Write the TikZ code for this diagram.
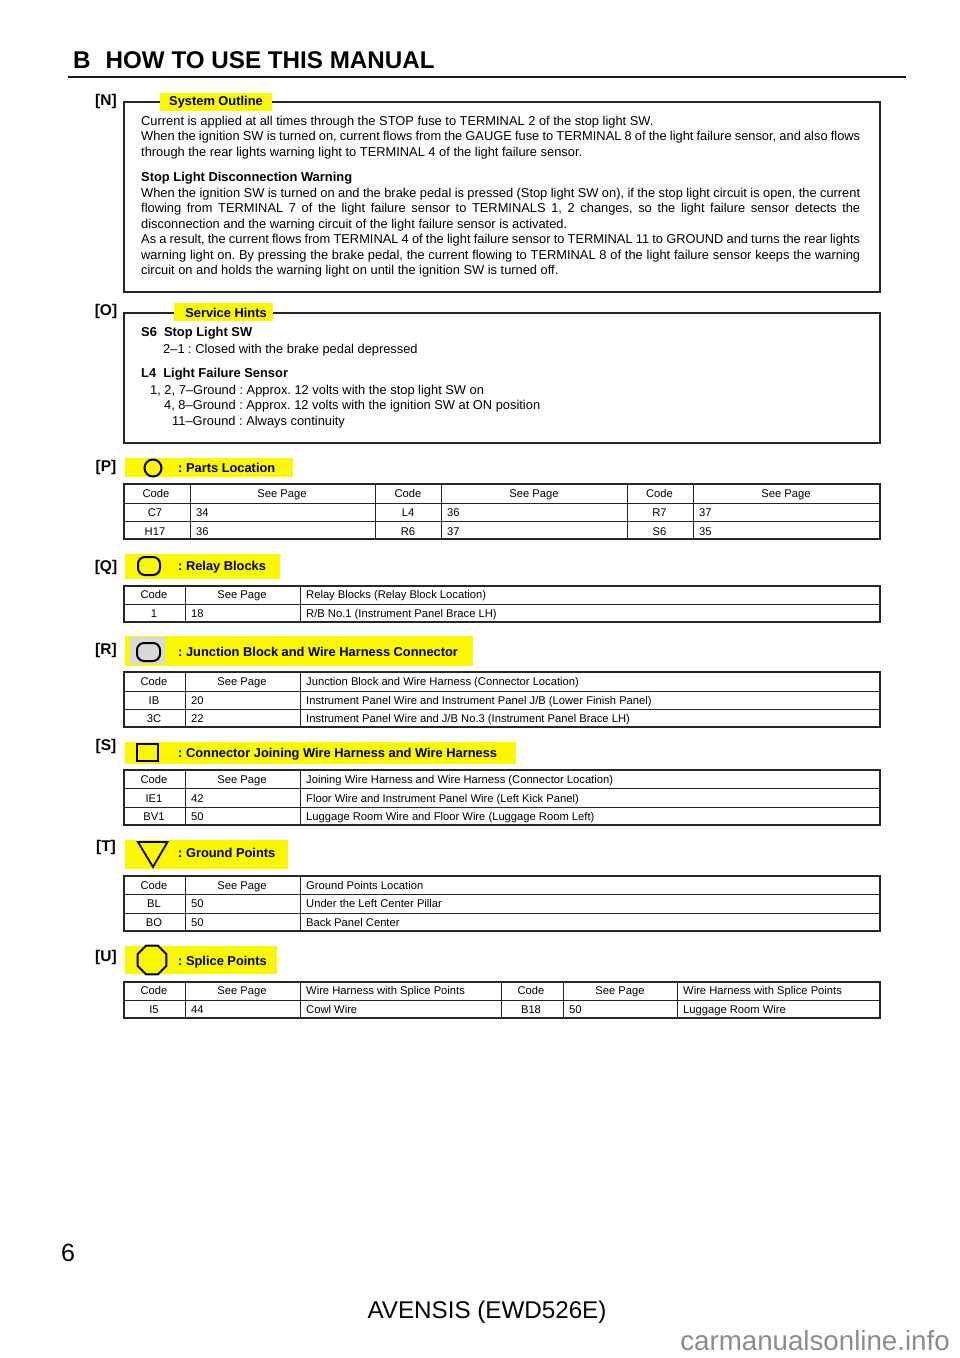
\documentclass[tikz,border=0pt]{standalone}
\usepackage{fontspec}
\setmainfont{Liberation Sans}
\usetikzlibrary{shapes.geometric}
\definecolor{hilite}{RGB}{250,247,0}
\definecolor{relgray}{RGB}{216,216,216}
\newcommand{\fullline}[1]{\hbox to 719pt{#1}}
\tikzset{
  body/.style={anchor=base west,inner sep=0pt,font=\fontsize{12.86}{14}\selectfont},
  bodyb/.style={body,font=\fontsize{12.9}{14}\selectfont\bfseries},
  tag/.style={inner sep=0pt,font=\fontsize{15.5}{18}\selectfont\bfseries},
  head/.style={inner sep=0pt,font=\fontsize{12.85}{15}\selectfont\bfseries},
  headl/.style={head,anchor=base west},
  bar/.style={fill=hilite,draw=none},
  frame/.style={draw=black!85,line width=1.4pt},
  grid/.style={draw=black!85,line width=1.3pt},
  thin grid/.style={draw=black!85,line width=1pt},
  cellc/.style={anchor=base,inner sep=0pt,font=\fontsize{11.2}{13}\selectfont},
  celll/.style={anchor=base west,inner sep=0pt,font=\fontsize{11.2}{13}\selectfont},
  sym/.style={draw=black,line width=2pt}
}
\begin{document}
\frenchspacing
\begin{tikzpicture}[x=1pt,y=-1pt]
\useasboundingbox (0,0) rectangle (960,1358);
\fill[white] (0,0) rectangle (960,1358);

% title
\node[anchor=base west,inner sep=0pt,font=\fontsize{24.2}{30}\selectfont\bfseries] (title) at (73,68) {B\hspace{0.62em}HOW TO USE THIS MANUAL};
\draw[line width=2.6pt,black!90] (68,77) -- (906,77);

% [N]
\draw[frame] (124,102) rectangle (880,292);
\fill[bar] (160,93) rectangle (272,111);
\node[head] (outline) at (216,102) {System Outline};
\node[tag] (tagN) at (106,101) {[N]};
\node[body] (n1) at (141,125) {Current is applied at all times through the STOP fuse to TERMINAL 2 of the stop light SW.};
\node[body] (n2) at (141,140) {\fullline{When the ignition SW is turned on, current flows from the GAUGE fuse to TERMINAL 8 of the light failure sensor, and also flows}};
\node[body] (n3) at (141,156) {through the rear lights warning light to TERMINAL 4 of the light failure sensor.};
\node[bodyb] (n4) at (141,181) {Stop Light Disconnection Warning};
\node[body] (n5) at (141,197) {\fullline{When the ignition SW is turned on and the brake pedal is pressed (Stop light SW on), if the stop light circuit is open, the current}};
\node[body] (n6) at (141,212) {\fullline{flowing from TERMINAL 7 of the light failure sensor to TERMINALS 1, 2 changes, so the light failure sensor detects the}};
\node[body] (n7) at (141,228) {disconnection and the warning circuit of the light failure sensor is activated.};
\node[body] (n8) at (141,243) {\fullline{As a result, the current flows from TERMINAL 4 of the light failure sensor to TERMINAL 11 to GROUND and turns the rear lights}};
\node[body] (n9) at (141,259) {\fullline{warning light on. By pressing the brake pedal, the current flowing to TERMINAL 8 of the light failure sensor keeps the warning}};
\node[body] (n10) at (141,274) {circuit on and holds the warning light on until the ignition SW is turned off.};

% [O]
\draw[frame] (124,313) rectangle (880,443);
\fill[bar] (174,303) rectangle (273,321);
\node[head] (hints) at (226,313) {Service Hints};
\node[tag] (tagO) at (106,311) {[O]};
\node[bodyb] (o1) at (141,336) {S6\hspace{0.55em}Stop Light SW};
\node[body] (o2) at (163,353) {2--1 : Closed with the brake pedal depressed};
\node[bodyb] (o3) at (141,377) {L4\hspace{0.55em}Light Failure Sensor};
\node[body] (o4) at (150,394) {1, 2, 7--Ground : Approx. 12 volts with the stop light SW on};
\node[body] (o5) at (164,409) {4, 8--Ground : Approx. 12 volts with the ignition SW at ON position};
\node[body] (o6) at (172,425) {11--Ground : Always continuity};

% [P]
\fill[bar] (125,458) rectangle (293,477);
\node[tag] (tagP) at (106,467) {[P]};
\node[sym,circle,minimum size=17pt,inner sep=0pt] (symP) at (153,468) {};
\node[headl] (headP) at (178,472.5) {: Parts Location};
\draw[grid] (124,484) rectangle (880,539);
\draw[thin grid] (124,503) -- (880,503) (124,521) -- (880,521);
\foreach \x in {190,375,441,627,693} \draw[thin grid] (\x,484) -- (\x,539);
\foreach \x/\y/\t [count=\i] in {156/497/Code,408/497/Code,659.5/497/Code,282/497/See Page,534/497/See Page,786/497/See Page,155/516/C7,408/516/L4,659.5/516/R7,155/535/H17,408/535/R6,659.5/535/S6}
  \node[cellc] (p\i) at (\x,\y) {\t};
\foreach \x/\y/\t [count=\i] in {196/516/34,447/516/36,699/516/37,196/535/36,447/535/37,699/535/35}
  \node[celll] (pv\i) at (\x,\y) {\t};

% [Q]
\fill[bar] (125,554) rectangle (280,579);
\node[tag] (tagQ) at (106,567) {[Q]};
\draw[sym,rounded corners=7pt] (138,557) rectangle (160,575);
\node[headl] (headQ) at (178,570.5) {: Relay Blocks};
\draw[grid] (124,586) rectangle (880,622);
\draw[thin grid] (124,604) -- (880,604);
\foreach \x in {185,300} \draw[thin grid] (\x,586) -- (\x,622);
\node[cellc] (q1) at (154,598) {Code};
\node[cellc] (q2) at (242,598) {See Page};
\node[celll] (q3) at (306,598) {Relay Blocks (Relay Block Location)};
\node[cellc] (q4) at (154,617) {1};
\node[celll] (q5) at (191,617) {18};
\node[celll] (q6) at (306,617) {R/B No.1 (Instrument Panel Brace LH)};

% [R]
\fill[bar] (125,636) rectangle (473,666);
\fill[relgray] (130,637) rectangle (165,664);
\node[tag] (tagR) at (106,650) {[R]};
\draw[sym,fill=relgray,rounded corners=7pt] (137,643) rectangle (160,661);
\node[headl] (headR) at (178,656.5) {: Junction Block and Wire Harness Connector};
\draw[grid] (124,672) rectangle (880,727);
\draw[thin grid] (124,691) -- (880,691) (124,709) -- (880,709);
\foreach \x in {185,300} \draw[thin grid] (\x,672) -- (\x,727);
\foreach \y/\c/\p/\t [count=\i] in {685/Code/See Page/{Junction Block and Wire Harness (Connector Location)},704/IB/20/{Instrument Panel Wire and Instrument Panel J/B (Lower Finish Panel)},722/3C/22/{Instrument Panel Wire and J/B No.3 (Instrument Panel Brace LH)}}{
  \node[cellc] (rc\i) at (154,\y) {\c};
  \ifnum\i=1 \node[cellc] (rp\i) at (242,\y) {\p}; \else \node[celll] (rp\i) at (191,\y) {\p}; \fi
  \node[celll] (rt\i) at (306,\y) {\t};
}

% [S]
\fill[bar] (125,742) rectangle (516,764);
\node[tag] (tagS) at (106,746) {[S]};
\draw[sym] (137,744) rectangle (158,761);
\node[headl] (headS) at (178,757.5) {: Connector Joining Wire Harness and Wire Harness};
\draw[grid] (124,770) rectangle (880,825);
\draw[thin grid] (124,788) -- (880,788) (124,807) -- (880,807);
\foreach \x in {185,300} \draw[thin grid] (\x,770) -- (\x,825);
\foreach \y/\c/\p/\t [count=\i] in {783/Code/See Page/Joining Wire Harness and Wire Harness (Connector Location),802/IE1/42/Floor Wire and Instrument Panel Wire (Left Kick Panel),820/BV1/50/Luggage Room Wire and Floor Wire (Luggage Room Left)}{
  \node[cellc] (sc\i) at (154,\y) {\c};
  \ifnum\i=1 \node[cellc] (sp\i) at (242,\y) {\p}; \else \node[celll] (sp\i) at (191,\y) {\p}; \fi
  \node[celll] (st\i) at (306,\y) {\t};
}

% [T]
\fill[bar] (125,840) rectangle (288,869);
\node[tag] (tagT) at (106,847) {[T]};
\draw[sym,line width=1.8pt,line join=miter] (138,842) -- (167.5,842) -- (153,867) -- cycle;
\node[headl] (headT) at (178,857.5) {: Ground Points};
\draw[grid] (124,876) rectangle (880,931);
\draw[thin grid] (124,894) -- (880,894) (124,913) -- (880,913);
\foreach \x in {185,300} \draw[thin grid] (\x,876) -- (\x,931);
\foreach \y/\c/\p/\t [count=\i] in {889/Code/See Page/Ground Points Location,907/BL/50/Under the Left Center Pillar,926/BO/50/Back Panel Center}{
  \node[cellc] (tc\i) at (154,\y) {\c};
  \ifnum\i=1 \node[cellc] (tp\i) at (242,\y) {\p}; \else \node[celll] (tp\i) at (191,\y) {\p}; \fi
  \node[celll] (tt\i) at (306,\y) {\t};
}

% [U]
\fill[bar] (125,946) rectangle (277,974);
\node[tag] (tagU) at (106,957) {[U]};
\node[sym,regular polygon,regular polygon sides=8,minimum size=31pt,inner sep=0pt] (symU) at (152,960) {};
\node[headl] (headU) at (178,965) {: Splice Points};
\draw[grid] (124,982) rectangle (880,1018);
\draw[thin grid] (124,1000) -- (880,1000);
\foreach \x in {185,300,501,563,677} \draw[thin grid] (\x,982) -- (\x,1018);
\node[cellc] (u1) at (154,994) {Code};
\node[cellc] (u2) at (242,994) {See Page};
\node[celll] (u3) at (306,994) {Wire Harness with Splice Points};
\node[cellc] (u4) at (531,994) {Code};
\node[cellc] (u5) at (620,994) {See Page};
\node[celll] (u6) at (683,994) {Wire Harness with Splice Points};
\node[cellc] (u7) at (154,1013) {I5};
\node[celll] (u8) at (191,1013) {44};
\node[celll] (u9) at (306,1013) {Cowl Wire};
\node[cellc] (u10) at (531,1013) {B18};
\node[celll] (u11) at (569,1013) {50};
\node[celll] (u12) at (683,1013) {Luggage Room Wire};

% footer
\node[anchor=base,inner sep=0pt,font=\fontsize{25}{30}\selectfont] (page) at (68,1261) {6};
\node[anchor=base,inner sep=0pt,font=\fontsize{24.2}{30}\selectfont] (model) at (487,1318) {AVENSIS (EWD526E)};
\node[anchor=base east,inner sep=0pt,text=black!45,font=\fontsize{27.7}{34}\selectfont] (mark) at (950,1350) {carmanualsonline.info};
\end{tikzpicture}
\end{document}
